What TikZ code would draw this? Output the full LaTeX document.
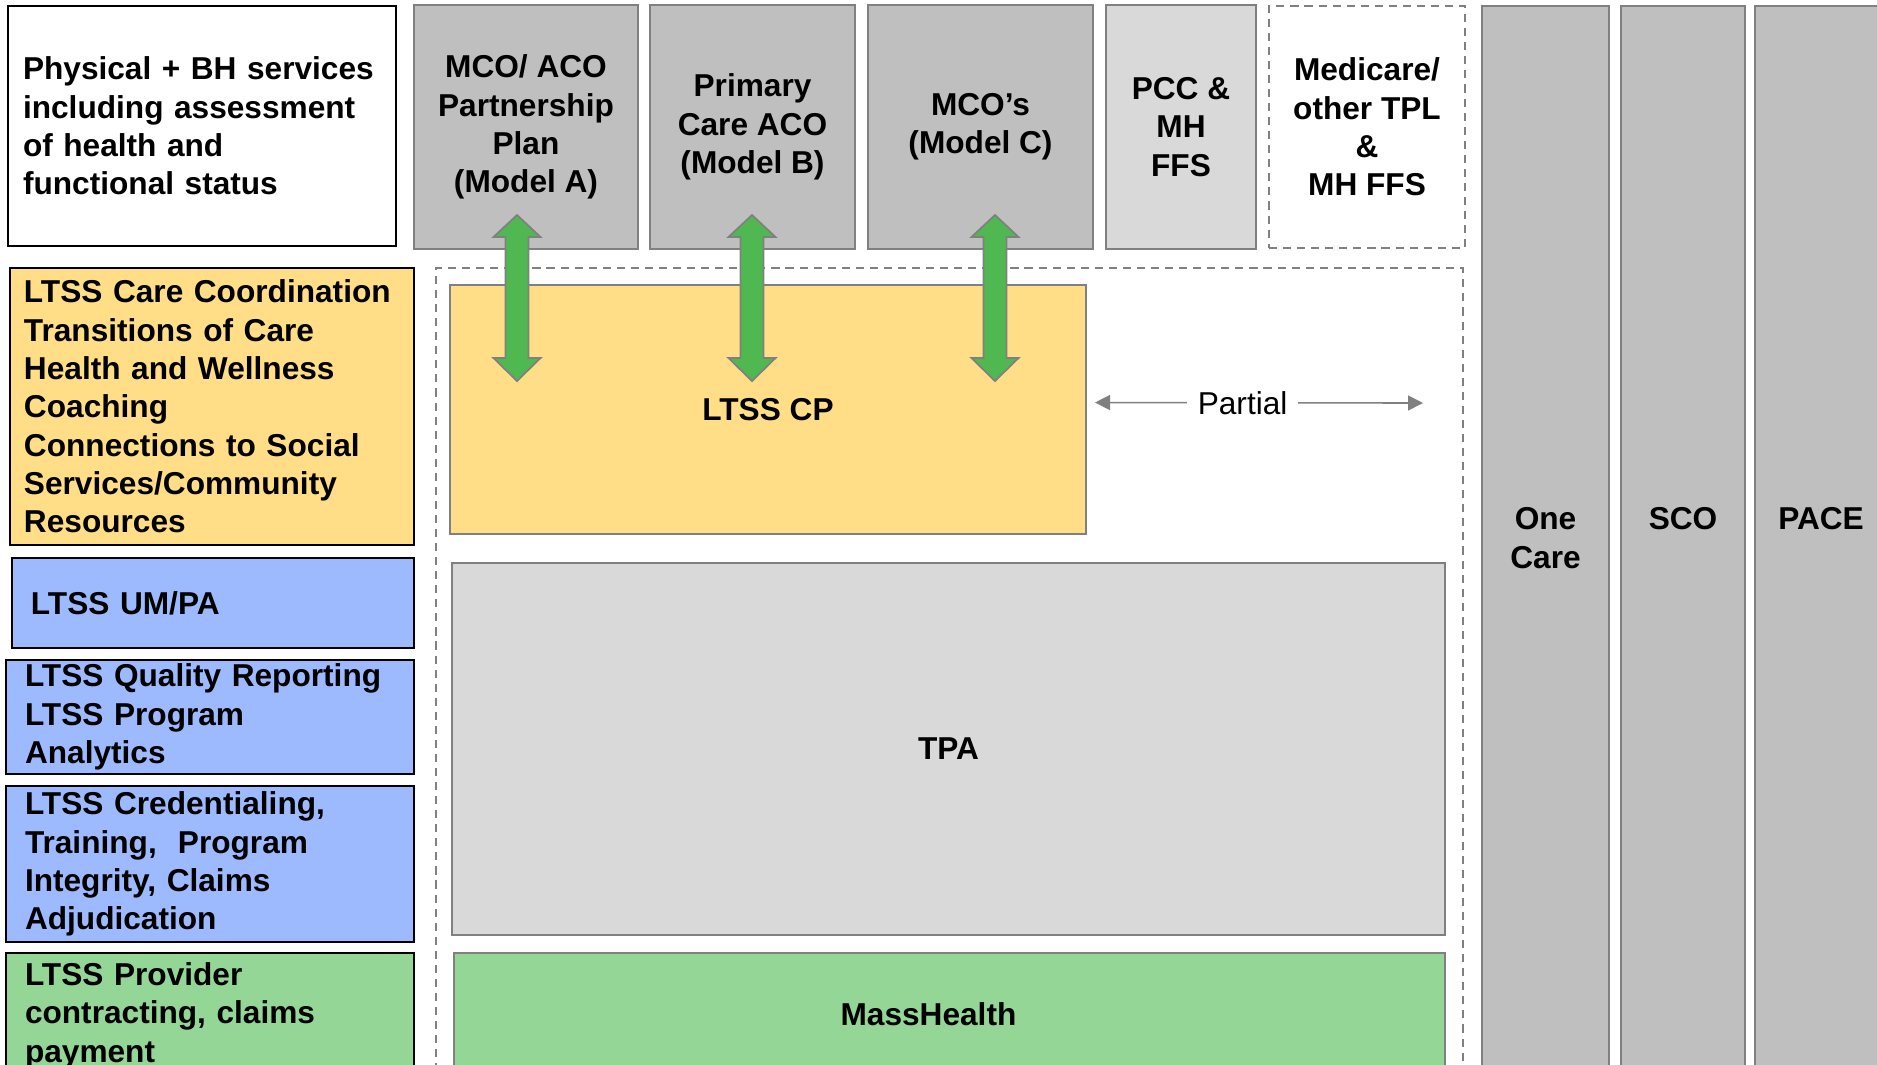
\documentclass[tikz,border=0pt]{standalone}
\usepackage{fontspec}
\setmainfont{Liberation Sans}
\usetikzlibrary{positioning,calc,arrows.meta}

\definecolor{ltssYellow}{RGB}{255,222,135}
\definecolor{umBlue}{RGB}{158,186,255}
\definecolor{payGreen}{RGB}{148,214,150}
\definecolor{planGray}{RGB}{191,191,191}
\definecolor{paleGray}{RGB}{217,217,217}
\definecolor{edgeGray}{RGB}{128,128,128}
\definecolor{arrowGreen}{RGB}{80,184,80}

% two-headed block arrow, #1 = top tip, #2 = bottom tip
\newcommand{\greenArrow}[2]{%
	\path [arrowshape] (#1) -- ++(0.235,-0.22) -- ++(-0.12,0)
		-- ($(#2)+(0.115,0.23)$) -- ++(0.12,0) -- (#2) -- ++(-0.235,0.23)
		-- ++(0.12,0) -- ($(#1)+(-0.115,-0.22)$) -- ++(-0.12,0) -- cycle;}

\begin{document}
\begin{tikzpicture}
	[containsText/.style  ={font=\fontsize{9pt}{10.9pt}\selectfont\bfseries
									},
		panel/.style		={rectangle
									, containsText
									, draw
									, line width=0.6pt
									, anchor=north west
									, inner sep=0pt
									, outer sep=0pt
									},
		task/.style			={panel
									, draw=black
									, align=left
									, inner xsep=0.19cm
									},
		plan/.style			={panel
									, draw=edgeGray
									, fill=planGray
									, align=center
									},
		layer/.style		={panel
									, draw=edgeGray
									%, thick
									, align=center
									},
		dashbox/.style		={panel
									, draw=edgeGray
									, dash pattern=on 2.3pt off 1.7pt
									, align=center
									},
		arrowshape/.style	={fill=arrowGreen
									, draw=edgeGray
									, line width=0.5pt
									},
		partialline/.style	={draw=edgeGray
									, line width=0.45pt
									, >={Triangle[length=0.15cm,width=0.15cm]}
									, <->
									}
	]
\clip (0,0) rectangle (18.77,-10.64);

% left column
\node [task, fill=white, inner xsep=0.15cm, minimum width=3.88cm, minimum height=2.40cm, text width=3.58cm] (physical) at (0.08,-0.06)
	{Physical + BH services\\including assessment\\of health and\\functional status};
\node [task, fill=ltssYellow, inner xsep=0.14cm, minimum width=4.04cm, minimum height=2.77cm, text width=3.76cm] (careCoord) at (0.10,-2.68)
	{LTSS Care Coordination\\Transitions of Care\\Health and Wellness\\Coaching\\Connections to Social\\Services/Community\\Resources};
\node [task, fill=umBlue, minimum width=4.02cm, minimum height=0.90cm, text width=3.64cm] (umpa) at (0.12,-5.58)
	{LTSS UM/PA};
\node [task, fill=umBlue, minimum width=4.08cm, minimum height=1.14cm, text width=3.70cm] (quality) at (0.06,-6.60)
	{LTSS Quality Reporting\\LTSS Program\\Analytics};
\node [task, fill=umBlue, minimum width=4.08cm, minimum height=1.56cm, text width=3.70cm] (credential) at (0.06,-7.86)
	{LTSS Credentialing,\\Training,\ \ Program\\Integrity, Claims\\Adjudication};
\node [task, fill=payGreen, minimum width=4.08cm, minimum height=1.25cm, text width=3.70cm] (provider) at (0.06,-9.53)
	{LTSS Provider\\contracting, claims\\payment};

% top row
\node [plan, minimum width=2.24cm, minimum height=2.44cm] (modelA) at (4.14,-0.05)
	{MCO/ ACO\\Partnership\\Plan\\(Model A)};
\node [plan, minimum width=2.05cm, minimum height=2.44cm] (modelB) at (6.50,-0.05)
	{Primary\\Care ACO\\(Model B)};
\node [plan, minimum width=2.25cm, minimum height=2.44cm] (modelC) at (8.68,-0.05)
	{MCO’s\\(Model C)};
\node [plan, fill=paleGray, minimum width=1.50cm, minimum height=2.44cm] (pcc) at (11.06,-0.05)
	{PCC \&\\MH\\FFS};
\node [dashbox, minimum width=1.96cm, minimum height=2.42cm] (medicare) at (12.69,-0.06)
	{Medicare/\\other TPL\\\&\\MH FFS};

% right columns
\node [plan, minimum width=1.27cm, minimum height=10.64cm] (oneCare) at (14.82,-0.06)
	{One\\Care};
\node [plan, minimum width=1.24cm, minimum height=10.64cm] (sco) at (16.21,-0.06)
	{SCO\\ ~};
\node [plan, minimum width=1.32cm, minimum height=10.64cm] (pace) at (17.55,-0.06)
	{PACE\\ ~};

% middle block
\node [dashbox, minimum width=10.27cm, minimum height=8.20cm] (delivery) at (4.36,-2.68) {};
\node [layer, fill=ltssYellow, minimum width=6.36cm, minimum height=2.49cm] (ltssCP) at (4.50,-2.85)
	{LTSS CP};
\node [layer, fill=paleGray, minimum width=9.93cm, minimum height=3.72cm] (tpa) at (4.52,-5.63)
	{TPA};
\node [layer, fill=payGreen, minimum width=9.91cm, minimum height=1.25cm,
	label={[containsText, xshift=-0.21cm, yshift=0.01cm]center:MassHealth}] (massHealth) at (4.54,-9.53)
	{};

% arrows
\coordinate (tipA) at (5.17,-2.15);
\coordinate (endA) at (5.17,-3.81);
\coordinate (tipB) at (7.52,-2.15);
\coordinate (endB) at (7.52,-3.81);
\coordinate (tipC) at (9.95,-2.15);
\coordinate (endC) at (9.95,-3.81);
\greenArrow{tipA}{endA}
\greenArrow{tipB}{endB}
\greenArrow{tipC}{endC}

\coordinate (partialL) at ($(ltssCP.east)+(0.09,0.07)$);
\coordinate (partialR) at (14.23,-4.03);
\path [partialline] (partialL) -- node [pos=0.45, anchor=center, fill=white, inner xsep=0.11cm, font=\fontsize{9pt}{10.9pt}\selectfont] (partial) {Partial} (partialR);
\end{tikzpicture}
\end{document}
